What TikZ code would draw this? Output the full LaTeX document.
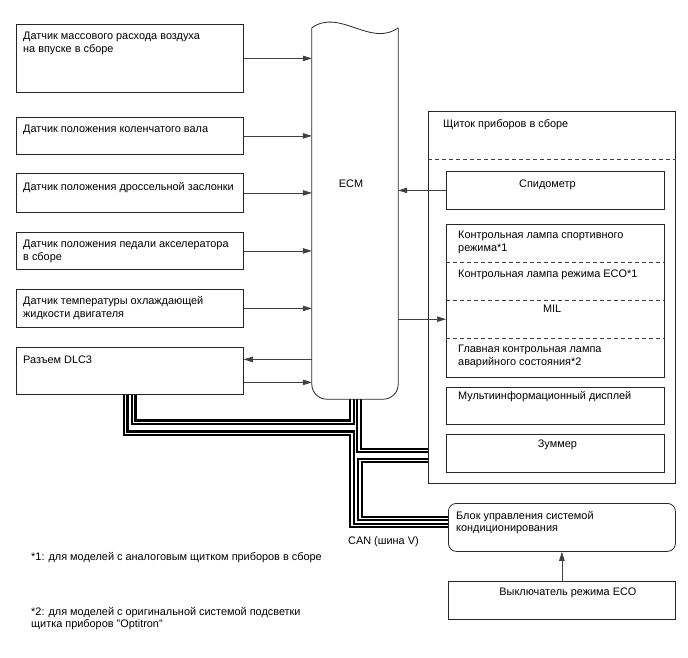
\documentclass[tikz,border=0pt]{standalone}
\usepackage{fontspec}
\setmainfont{Liberation Sans}
\usetikzlibrary{arrows.meta,calc,positioning}
\newcommand{\diagfont}{\fontsize{10.9}{12.7}\selectfont}
\tikzstyle{box} = [rectangle, draw=black!85, line width=0.8pt, anchor=north west, inner sep=0pt]
\tikzstyle{area} = [rectangle, anchor=north west, inner sep=0pt, minimum width=218pt, minimum height=38pt]
\tikzstyle{boxtext} = [anchor=north west, inner sep=0pt, xshift=7pt, yshift=-7pt, align=left]
\tikzstyle{midtext} = [anchor=north, inner sep=0pt, yshift=-7pt, align=center]
\tikzstyle{outline} = [draw=black!85, line width=0.8pt]
\tikzstyle{sep} = [draw=black!75, line width=0.7pt, dash pattern=on 4pt off 3pt]
\tikzstyle{arrow} = [black!75, line width=0.7pt, -{Triangle[length=9pt,width=5.5pt]}]
\tikzstyle{bus} = [line width=2.2pt, double=white, double distance=1.1pt]

\begin{document}
\begin{tikzpicture}[x=1pt, y=-1pt, font=\diagfont]
    \useasboundingbox (0,0) rectangle (688,658);

    \node (maf) [box, minimum width=227pt, minimum height=68pt, label={[boxtext, yshift=-1pt]north west:{Датчик массового расхода воздуха\\на впуске в сборе}}] at (16,24) {};
    \node (ckp) [box, minimum width=227pt, minimum height=37pt, label={[boxtext, yshift=-1pt]north west:{Датчик положения коленчатого вала}}] at (16,117) {};
    \node (tps) [box, minimum width=227pt, minimum height=39pt, label={[boxtext, yshift=-2pt]north west:{Датчик положения дроссельной заслонки}}] at (16,173) {};
    \node (app) [box, minimum width=227pt, minimum height=37pt, label={[boxtext, yshift=-1pt]north west:{Датчик положения педали акселератора\\в сборе}}] at (16,232) {};
    \node (ect) [box, minimum width=227pt, minimum height=38pt, label={[boxtext, yshift=-0.5pt]north west:{Датчик температуры охлаждающей\\жидкости двигателя}}] at (16,289) {};
    \node (dlc) [box, minimum width=227pt, minimum height=47pt, label={[boxtext, yshift=-1.5pt]north west:{Разъем DLC3}}] at (16,347) {};

    \node (ecm) [rectangle, inner sep=0pt, minimum width=86pt, minimum height=371pt] at (355,213.5) {};
    \node (ecmlabel) at ([xshift=-4pt, yshift=30pt]ecm.center) {ECM};

    \node (meter) [box, minimum width=247pt, minimum height=372pt, label={[boxtext, xshift=8pt, yshift=-1pt]north west:{Щиток приборов в сборе}}] at (428,111) {};
    \node (speedo) [box, minimum width=218pt, minimum height=38pt, label={[midtext, xshift=-8pt, yshift=-2pt]north:{Спидометр}}] at (446,171) {};
    \node (sport) [area, label={[boxtext, xshift=5pt, yshift=0pt]north west:{Контрольная лампа спортивного\\режима*1}}] at (446,224) {};
    \node (eco) [area, label={[boxtext, xshift=5pt, yshift=-1pt]north west:{Контрольная лампа режима ECO*1}}] at (446,262) {};
    \node (mil) [area, label={[midtext, xshift=-3pt, yshift=2.5pt]north:{MIL}}] at (446,300) {};
    \node (master) [area, minimum height=39pt, label={[boxtext, xshift=5pt, yshift=0pt]north west:{Главная контрольная лампа\\аварийного состояния*2}}] at (446,338) {};
    \node (multi) [box, minimum width=218pt, minimum height=37pt, label={[boxtext, xshift=5pt, yshift=3pt]north west:{Мультиинформационный дисплей}}] at (446,387) {};
    \node (buzzer) [box, minimum width=218pt, minimum height=38pt, label={[midtext, xshift=2pt, yshift=1pt]north:{Зуммер}}] at (446,434) {};

    \node (acunit) [box, rounded corners=8pt, minimum width=227pt, minimum height=48pt, label={[boxtext, xshift=1pt, yshift=-1pt]north west:{Блок управления системой\\кондиционирования}}] at (448,503) {};
    \node (ecoswitch) [box, minimum width=227pt, minimum height=38pt, label={[midtext, xshift=6pt, yshift=0pt]north:{Выключатель режима ECO}}] at (448,581) {};

    \node (canlabel) [anchor=west, inner sep=0pt] at (348,542) {CAN (шина V)};
    \node (note1) [anchor=west, inner sep=0pt] at (31,558) {*1: для моделей с аналоговым щитком приборов в сборе};
    \node (note2) [anchor=north west, inner sep=0pt, align=left] at (31,607) {*2: для моделей с оригинальной системой подсветки\\щитка приборов "Optitron"};

    \coordinate (dlcout) at ($(dlc.east)+(0,-11.5)$);
    \coordinate (dlcin) at ($(dlc.east)+(0,11.5)$);
    \coordinate (mtrbus) at (meter.west |- buzzer.west);

    \draw [bus] ($(dlc.south)+(4,0)$) |- ($(ecm.south)+(-3,23)$) -- ($(ecm.south)+(-3,0)$);
    \draw [bus] ($(dlc.south)+(-4,0)$) |- ($(ecm.south)+(-3,34)$) |- ($(acunit.west)+(0,-2)$);
    \draw [bus] ($(ecm.south)+(4,0)$) |- ($(mtrbus)+(0,-3)$);
    \draw [bus] ($(mtrbus)+(0,7)$) -| ($(ecm.south |- acunit.west)+(5,-9)$) -- ($(acunit.west)+(0,-9)$);

    \draw [outline] (ecm.north west) .. controls ($(ecm.north west)+(28,-20)$) and ($(ecm.north east)+(-28,20)$) .. (ecm.north east);
    \draw [outline, rounded corners=15pt] (ecm.north east) -- (ecm.south east) -- (ecm.south west) -- (ecm.north west);

    \draw [outline] (sport.north west) rectangle (master.south east);
    \draw [sep] (sport.south west) -- (sport.south east);
    \draw [sep] (eco.south west) -- (eco.south east);
    \draw [sep] (mil.south west) -- (mil.south east);
    \draw [sep] ([yshift=-48pt]meter.north west) -- ([yshift=-48pt]meter.north east);

    \draw [arrow] (maf.east) -- (maf.east -| ecm.west);
    \draw [arrow] (ckp.east) -- (ckp.east -| ecm.west);
    \draw [arrow] (tps.east) -- (tps.east -| ecm.west);
    \draw [arrow] (app.east) -- (app.east -| ecm.west);
    \draw [arrow] (ect.east) -- (ect.east -| ecm.west);
    \draw [arrow] (dlcout -| ecm.west) -- (dlcout);
    \draw [arrow] (dlcin) -- (dlcin -| ecm.west);
    \draw [arrow] (speedo.west) -- (speedo.west -| ecm.east);
    \draw [arrow] (mil.west -| ecm.east) -- (mil.west);
    \draw [arrow] (ecoswitch.north) -- (ecoswitch.north |- acunit.south);
\end{tikzpicture}
\end{document}
